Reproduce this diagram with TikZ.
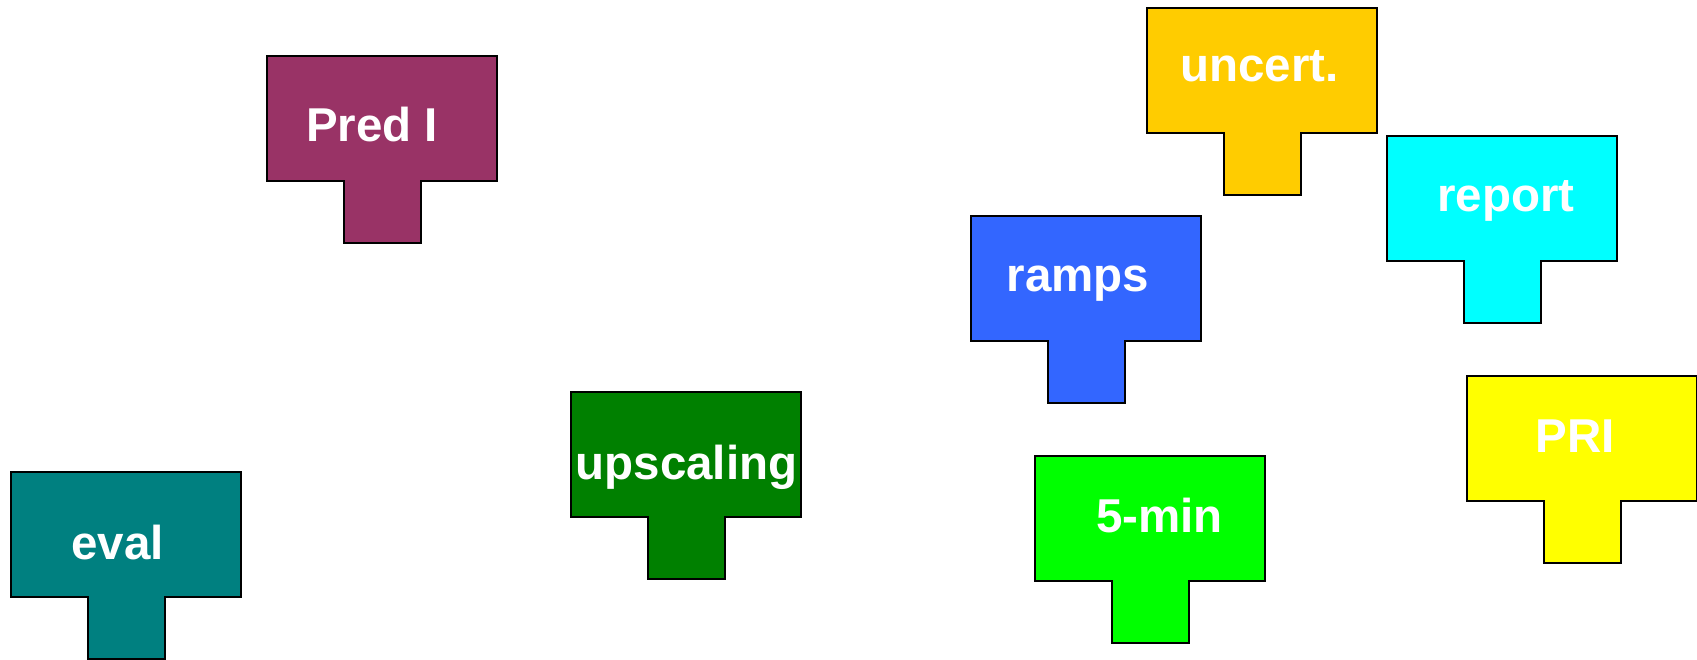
\documentclass[tikz,border=0pt]{standalone}
\usepackage{fontspec}
\setmainfont{Liberation Sans}
\definecolor{cpred}{HTML}{993366}
\definecolor{ceval}{HTML}{008080}
\definecolor{cunc}{HTML}{FFCC00}
\definecolor{cpri}{HTML}{FFFF00}
\definecolor{crep}{HTML}{00FFFF}
\definecolor{cramp}{HTML}{3366FF}
\definecolor{cups}{HTML}{008000}
\definecolor{cfive}{HTML}{00FF00}
\tikzset{
  tshape/.style={draw=black, line width=2pt, line join=miter},
  tlabel/.style={anchor=base, inner sep=0pt, text=white, font=\fontsize{47.5}{50}\selectfont\bfseries}
}
% #1,#2 top-left; #3 colour; #4 name; #5 text x; #6 baseline y; #7 text
\newcommand\tbox[7]{%
  \fill[#3] (#1,#2) -- ++(230,0) -- ++(0,125) -- ++(-76.5,0) -- ++(0,62) -- ++(-77,0) -- ++(0,-62) -- ++(-76.5,0) -- cycle;
  \draw[tshape] (#1,#2) -- ++(230,0) -- ++(0,125) -- ++(-76.5,0) -- ++(0,62) -- ++(-77,0) -- ++(0,-62) -- ++(-76.5,0) -- cycle;
  \node[tlabel] (#4) at (#5,#6) {#7};%
}
\begin{document}
\begin{tikzpicture}[x=1pt,y=-1pt]
\useasboundingbox (0,0) rectangle (1697,660);
\tbox{267}{56}{cpred}{pred}{372}{142}{Pred I}
\tbox{11}{472}{ceval}{eval}{117.5}{559}{eval}
\tbox{1147}{8}{cunc}{unc}{1259.5}{82}{uncert.}
\tbox{1467}{376}{cpri}{pri}{1575}{452}{PRI}
\tbox{1387}{136}{crep}{rep}{1506}{212}{report}
\tbox{971}{216}{cramp}{ramps}{1078}{292}{ramps}
\tbox{571}{392}{cups}{ups}{686.5}{479}{upscaling}
\tbox{1035}{456}{cfive}{five}{1159.5}{532}{5-min}
\end{tikzpicture}
\end{document}
